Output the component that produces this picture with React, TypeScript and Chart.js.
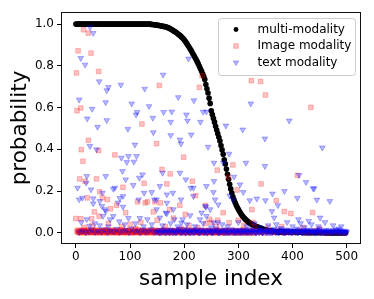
import React, { useEffect, useRef } from "react";
import { Chart, registerables } from "chart.js";
Chart.register(...registerables);

const FONT = "'DejaVu Sans', sans-serif";

const seriesNames = ["multi-modality", "Image modality", "text modality"];
const xTicks = [0, 100, 200, 300, 400, 500];
const yTicks = [0, 0.2, 0.4, 0.6, 0.8, 1.0];

// multi-modality probability, one value per even sample index (0, 2, 4, ... 498)
const multiModality = [
  1,1,1,1,1,1,1,1,1,1, 1,1,1,1,1,1,1,1,1,1, 1,1,1,1,1,1,1,1,1,1, 1,1,1,1,1,1,1,1,1,1,
  1,1,1,1,1,1,1,1,1,1, 1,1,1,1,1,1,1,1,1,1, 1,1,1,1,1,1,1,1,1,1,
  0.998,0.998,0.997,0.997,0.996,0.995,0.994,0.993,0.992,0.991,
  0.99,0.989,0.988,0.987,0.985,0.983,0.981,0.978,0.975,0.972,
  0.968,0.965,0.962,0.958,0.954,0.95,0.946,0.941,0.936,0.931,
  0.925,0.918,0.91,0.902,0.894,0.885,0.877,0.868,0.858,0.849,
  0.84,0.83,0.82,0.81,0.798,0.786,0.775,0.762,0.75,0.735,
  0.71,0.69,0.67,0.645,0.62,0.585,0.566,0.548,0.53,0.51,
  0.492,0.475,0.458,0.44,0.418,0.397,0.376,0.35,0.33,0.305,
  0.28,0.256,0.232,0.21,0.19,0.172,0.158,0.145,0.133,0.122,
  0.112,0.103,0.094,0.086,0.079,0.073,0.067,0.062,0.057,0.052,
  0.048,0.045,0.042,0.039,0.036,0.033,0.031,0.029,0.027,0.025,
  0.023,0.021,0.019,0.017,0.015,0.013,0.012,0.011,0.01,0.009,
  0.008,0.007,0.007,0.006,0.006,0.005,0.005,0.005,0.004,0.004,
  0.004,0.003,0.003,0.003,0.003,0.003,0.002,0.002,0.002,0.002,
  0.002,0.002,0.002,0.002,0.002,0.002,0.002,0.002,0.002,0.002,
  0.001,0.001,0.001,0.001,0.001,0.001,0.001,0.001,0.001,0.001,
  0.001,0.001,0.001,0.001,0.001,0.001,0.001,0.001,0.001,0.001,
  0,0,0,0,0,0,0,0,0,0, 0,0,0,0,0,0,0,0,0,0,
];

// Image modality: [sample index, probability]
const imageScatter = [
  [14,0.973],[23,0.957],[4,0.872],[28,0.861],[1,0.766],[42,0.773],[2,0.585],[9,0.598],[10,0.398],[23,0.443],
  [13,0.343],[42,0.394],[7,0.258],[38,0.258],[17,0.247],[21,0.167],[44,0.196],[49,0.167],[34,0.1],[0,0.068],
  [29,0.067],[154,0.706],[122,0.521],[72,0.373],[149,0.427],[199,0.362],[159,0.303],[174,0.282],[168,0.234],[126,0.237],
  [87,0.218],[114,0.148],[132,0.148],[146,0.148],[58,0.159],[75,0.132],[92,0.096],[143,0.1],[192,0.132],[215,0.247],
  [221,0.178],[202,0.088],[239,0.131],[228,0.697],[233,0.753],[261,0.3],[281,0.266],[290,0.325],[298,0.205],[272,0.096],
  [324,0.729],[341,0.725],[350,0.66],[325,0.111],[342,0.234],[370,0.154],[385,0.102],[397,0.092],[434,0.601],[409,0.275],
  [437,0.097],[64,0.115],[43,0.079],[9,0.067],[128,0.143],[156,0.143],[173,0.111],[209,0.035],[283,0.048],[120,0.05],
  [100,0.04],[60,0.045],[30,0.035],[150,0.06],[180,0.07],[240,0.045],[260,0.03],[300,0.06],[310,0.035],[330,0.03],
  [355,0.025],[380,0.03],[420,0.025],[450,0.02],[15,0.025],[85,0.03],[110,0.02],[165,0.03],[195,0.02],[225,0.025],
  [250,0.05],[247,0.064],[262,0.06],[327,0.05],
];
const imageLow = [
  [3,0.004],[5,0],[7,0.01],[9,0.002],[11,0.006],[13,0.013],[15,0.001],[17,0.007],[19,0.003],[21,0.011],
  [24,0],[26,0.005],[28,0.009],[30,0.002],[33,0.014],[35,0.004],[37,0],[39,0.008],[42,0.003],[44,0.012],
  [46,0.001],[48,0.006],[51,0],[53,0.009],[55,0.004],[57,0.015],[60,0.002],[62,0.007],[64,0],[67,0.011],
  [69,0.003],[71,0.006],[74,0],[76,0.01],[78,0.004],[80,0.001],[83,0.008],[85,0.013],[87,0.002],[90,0.005],
  [92,0],[94,0.009],[97,0.003],[99,0.012],[101,0.001],[104,0.006],[106,0],[108,0.01],[111,0.004],[113,0.002],
  [115,0.014],[118,0],[120,0.007],[122,0.003],[125,0.011],[127,0.001],[129,0.005],[132,0],[134,0.009],[136,0.003],
  [139,0.006],[141,0.012],[143,0],[146,0.004],[148,0.008],[150,0.001],[153,0.01],[155,0.003],[158,0],[160,0.006],
  [162,0.013],[165,0.002],[167,0.007],[170,0],[172,0.004],[175,0.011],[177,0.001],[180,0.006],[183,0],[185,0.009],
  [188,0.003],[190,0.014],[193,0.001],[196,0.005],[198,0],[201,0.008],[204,0.002],[207,0.011],[210,0],[213,0.006],
  [216,0.003],[219,0.01],[222,0.001],[226,0.007],[229,0],[233,0.012],[236,0.004],[240,0],[244,0.009],[248,0.002],
  [252,0.006],[256,0],[260,0.011],[264,0.003],[268,0.007],[273,0],[277,0.01],[282,0.004],[287,0.001],[292,0.008],
  [297,0],[302,0.005],[308,0.012],[314,0.002],[320,0.006],[327,0],[334,0.009],[341,0.003],[348,0],[356,0.007],
  [364,0.002],[373,0.01],[382,0],[391,0.005],[400,0.001],[410,0.008],[420,0],[430,0.004],[441,0.01],[452,0.002],
  [463,0],[475,0.006],[487,0.003],[498,0],
];
const imageLowFill = [
  [2,0.008],[4,0.012],[6,0.003],[8,0],[10,0.009],[12,0.002],[14,0.006],[16,0.011],[18,0],[20,0.005],
  [22,0.002],[23,0.013],[25,0.007],[27,0],[29,0.004],[31,0.01],[32,0.001],[34,0.007],[36,0.012],[38,0.002],
  [40,0],[41,0.005],[43,0.009],[45,0],[47,0.011],[49,0.003],[50,0.007],[52,0.001],[54,0.013],[56,0],
  [58,0.006],[59,0.003],[61,0.01],[63,0],[65,0.005],[66,0.012],[68,0.002],[70,0.008],[72,0],[73,0.004],
  [75,0.011],[77,0.001],[79,0.007],[81,0],[82,0.013],[84,0.003],[86,0.006],[88,0],[89,0.01],[91,0.002],
  [93,0.005],[95,0],[96,0.012],[98,0.007],[100,0.001],[102,0.009],[103,0],[105,0.004],[107,0.013],[109,0.002],
  [110,0.006],[112,0],[114,0.008],[116,0.003],[117,0.011],[119,0],[121,0.005],[123,0.009],[124,0.001],[126,0.006],
  [128,0.012],[130,0],[131,0.003],[133,0.007],[135,0],[137,0.01],[138,0.002],[140,0.005],[142,0],[144,0.009],
  [145,0.003],[147,0.012],[149,0],[151,0.006],[152,0.002],[154,0.008],[156,0],[157,0.011],[159,0.004],[161,0],
  [163,0.007],[164,0.002],[166,0.01],[168,0],[169,0.005],[171,0.012],[173,0.001],[174,0.007],[176,0],[178,0.009],
  [179,0.003],[181,0.006],[182,0],[184,0.011],[186,0.002],[187,0.005],[189,0],[191,0.008],[192,0.003],[194,0.01],
  [195,0],[197,0.006],[199,0.002],[200,0.013],[202,0],[203,0.004],[205,0.008],[206,0],[208,0.006],[209,0.002],
  [211,0.01],[212,0],[214,0.005],[215,0.012],[217,0],[218,0.007],[220,0.003],[221,0],[223,0.009],[224,0.002],
  [225,0.005],[227,0],[228,0.011],[230,0.003],[231,0.006],[232,0],[234,0.008],[235,0.002],[237,0],[238,0.01],
  [239,0.004],[241,0],[242,0.006],[243,0.002],[245,0.012],[246,0],[247,0.005],[249,0.003],[250,0],[251,0.009],
  [253,0.002],[254,0],[255,0.007],[257,0.003],[258,0.011],[259,0],[261,0.005],[262,0.001],[263,0.008],[265,0],
  [266,0.004],[267,0.012],[269,0],[270,0.006],[271,0.002],[272,0],[274,0.009],[275,0.003],[276,0],[278,0.006],
  [279,0.011],[280,0],[281,0.004],[283,0.001],[284,0.008],[285,0],[286,0.005],[288,0.012],[289,0],[290,0.003],
  [291,0.007],[293,0],[294,0.004],[295,0.01],[296,0],[298,0.006],[299,0.002],[300,0],[301,0.009],[303,0.003],
  [304,0],[305,0.007],[306,0],[307,0.004],[309,0.011],[310,0],[311,0.005],[312,0],[313,0.008],[315,0.002],
  [316,0],[317,0.006],[318,0],[319,0.01],[321,0.003],[322,0],[323,0.007],[325,0],[326,0.004],[328,0.009],
  [330,0],[332,0.005],[335,0],[338,0.008],[340,0.002],[343,0],[346,0.006],[350,0.001],[353,0.009],[359,0],
  [362,0.005],[368,0.002],[377,0.007],[386,0],[395,0.004],[405,0],[414,0.006],[425,0.002],[436,0],[446,0.007],
  [457,0.001],[468,0],[480,0.004],[492,0],
];

// text modality: [sample index, probability]
const textScatter = [
  [26,0.985],[32,0.957],[9,0.837],[17,0.805],[6,0.638],[30,0.593],[43,0.725],[60,0.698],[55,0.625],[83,0.709],
  [40,0.507],[21,0.547],[57,0.539],[26,0.415],[103,0.619],[113,0.578],[96,0.497],[127,0.69],[142,0.55],[143,0.481],
  [162,0.578],[161,0.757],[177,0.58],[189,0.649],[175,0.531],[175,0.467],[192,0.446],[194,0.427],[208,0.834],[218,0.634],
  [204,0.566],[230,0.531],[235,0.579],[213,0.47],[244,0.411],[277,0.513],[283,0.378],[308,0.494],[323,0.619],[349,0.451],
  [349,0.319],[394,0.537],[455,0.408],[412,0.276],[438,0.212],[314,0.335],[255,0.335],[272,0.335],[292,0.268],[284,0.178],
  [303,0.231],[290,0.159],[309,0.194],[321,0.155],[334,0.163],[350,0.155],[363,0.187],[362,0.103],[366,0.072],[385,0.199],
  [409,0.166],[425,0.242],[440,0.212],[445,0.158],[469,0.151],[373,0.131],[451,0.072],[411,0.064],[430,0.056],[254,0.194],
  [239,0.127],[3,0.215],[6,0.159],[12,0.167],[20,0.271],[19,0.239],[32,0.164],[49,0.191],[55,0.271],[48,0.127],
  [55,0.103],[72,0.215],[78,0.144],[69,0.079],[84,0.359],[94,0.338],[97,0.367],[109,0.422],[107,0.34],[112,0.367],
  [117,0.263],[123,0.279],[106,0.228],[126,0.191],[87,0.175],[155,0.223],[160,0.287],[140,0.194],[168,0.183],[179,0.191],
  [149,0.159],[192,0.287],[203,0.255],[212,0.215],[217,0.175],[241,0.223],[257,0.159],[263,0.135],[248,0.112],[232,0.096],
  [180,0.112],[166,0.096],[197,0.064],[38,0.399],[86,0.295],[92,0.255],[20,0.064],[25,0.032],[44,0.035],[50,0.08],
  [63,0.064],[80,0.054],[97,0.07],[118,0.07],[132,0.064],[155,0.072],[168,0.092],[182,0.064],[195,0.048],[211,0.083],
  [229,0.064],[241,0.08],[254,0.048],[69,0.21],[81,0.166],[87,0.124],[44,0.151],[28,0.207],[32,0.14],[54,0.112],
  [116,0.159],[145,0.159],[149,0.112],[168,0.143],[194,0.159],[217,0.215],[240,0.124],[255,0.247],[57,0.682],[111,0.566],
  [135,0.606],[206,0.537],[241,0.58],[270,0.04],[280,0.03],[300,0.05],[315,0.03],[330,0.045],[340,0.025],[355,0.035],
  [370,0.04],[378,0.022],[390,0.05],[400,0.03],[415,0.045],[422,0.025],[435,0.04],[448,0.03],[460,0.05],[475,0.035],
  [485,0.02],[490,0.03],[10,0.05],[35,0.045],[60,0.03],[90,0.04],[110,0.045],[125,0.03],[140,0.04],[160,0.035],
  [175,0.045],[188,0.03],[205,0.04],[220,0.03],[235,0.045],[250,0.025],[262,0.05],
];
const textLow = [
  [6,0.002],[12,0.009],[18,0],[24,0.006],[29,0.013],[35,0.001],[41,0.008],[47,0.003],[52,0.015],[58,0],
  [64,0.01],[70,0.004],[75,0.018],[81,0.001],[87,0.007],[92,0.012],[98,0],[103,0.02],[108,0.005],[114,0.009],
  [119,0],[124,0.014],[129,0.003],[134,0.008],[139,0.017],[144,0.001],[148,0.006],[152,0.011],[156,0],[160,0.004],
  [163,0.015],[167,0.002],[170,0.008],[174,0],[177,0.012],[181,0.005],[184,0],[188,0.009],[191,0.019],[195,0.002],
  [198,0.007],[202,0],[205,0.013],[208,0.004],[212,0],[215,0.01],[218,0.002],[222,0.016],[225,0.006],[228,0],
  [232,0.011],[235,0.003],[238,0.008],[242,0],[245,0.014],[248,0.005],[252,0.001],[255,0.009],[258,0.02],[262,0.003],
  [265,0],[268,0.007],[272,0.012],[275,0.002],[278,0],[282,0.009],[285,0.004],[288,0.016],[291,0],[294,0.006],
  [297,0.011],[300,0.002],[303,0],[306,0.008],[309,0.013],[312,0.003],[315,0],[318,0.006],[321,0.017],[324,0.001],
  [327,0.009],[330,0.004],[333,0],[336,0.011],[339,0.003],[342,0.007],[345,0],[348,0.014],[351,0.002],[354,0.005],
  [357,0],[360,0.01],[363,0.003],[366,0.018],[369,0.001],[372,0.006],[375,0],[378,0.012],[381,0.004],[384,0.008],
  [387,0],[390,0.015],[393,0.002],[396,0.007],[399,0],[402,0.01],[405,0.003],[408,0.019],[411,0.001],[414,0.006],
  [417,0],[420,0.012],[423,0.004],[426,0.009],[429,0],[432,0.014],[435,0.002],[438,0.006],[441,0],[444,0.011],
  [447,0.003],[450,0.017],[453,0.001],[456,0.008],[459,0],[462,0.013],[465,0.004],[468,0.007],[471,0],[474,0.01],
  [477,0.002],[480,0.015],[483,0],[486,0.006],[489,0.011],[492,0.003],[495,0],[498,0.008],[500,0.002],
];
const textLowFill = [
  [150,0.003],[154,0],[158,0.012],
  [161,0.005],[165,0],[168,0.009],[172,0.003],[175,0.014],[179,0],[182,0.006],[186,0.002],[189,0.011],[193,0],
  [196,0.004],[200,0.016],[203,0],[207,0.007],[210,0.002],[213,0.012],[217,0],[220,0.005],[223,0.009],[227,0],
  [230,0.003],[233,0.014],[237,0.001],[240,0.006],[243,0],[247,0.01],[250,0.003],[253,0],[257,0.007],[260,0.012],
  [263,0],[267,0.004],[270,0.009],[273,0],[277,0.015],[280,0.002],[283,0],[287,0.006],[290,0.011],[293,0.001],
  [296,0],[299,0.008],[302,0.014],[305,0.002],[308,0],[311,0.007],[314,0.011],[317,0.003],[320,0],[323,0.009],
  [326,0.004],[329,0.015],[332,0],[335,0.006],[338,0.002],[341,0.012],[344,0],[347,0.005],[350,0.009],[353,0],
  [356,0.013],[359,0.003],[362,0],[365,0.007],[368,0.011],[371,0.002],[374,0],[377,0.006],[380,0.016],[383,0.001],
  [386,0],[389,0.008],[392,0.012],[395,0.003],[398,0],[401,0.006],[404,0.01],[407,0.002],[410,0],[413,0.014],
  [416,0.004],[419,0],[422,0.008],[425,0.002],[428,0.012],[431,0],[434,0.006],[437,0.01],[440,0.003],[443,0],
  [446,0.007],[449,0.013],[452,0],[455,0.004],[458,0.009],[461,0.002],[464,0],[467,0.011],[470,0.005],[473,0],
  [476,0.008],[479,0.003],[482,0.012],[485,0],[488,0.006],[491,0.002],[494,0.009],[497,0],[499,0.005],
];

const BLACK = "#000000";
const RED = "rgba(255,0,0,0.24)";
const BLUE = "rgba(0,0,255,0.28)";

function drawMarker(ctx: CanvasRenderingContext2D, kind: number, x: number, y: number) {
  ctx.save();
  if (kind === 0) {
    ctx.fillStyle = BLACK;
    ctx.beginPath();
    ctx.arc(x, y, 2.4, 0, Math.PI * 2);
    ctx.fill();
  } else if (kind === 1) {
    const s = 2.3;
    ctx.fillStyle = RED;
    ctx.strokeStyle = RED;
    ctx.lineWidth = 1;
    ctx.beginPath();
    ctx.rect(x - s, y - s, 2 * s, 2 * s);
    ctx.fill();
    ctx.stroke();
  } else {
    const r = 3.1;
    ctx.fillStyle = BLUE;
    ctx.strokeStyle = BLUE;
    ctx.lineWidth = 1;
    ctx.beginPath();
    ctx.moveTo(x, y + r);
    ctx.lineTo(x - r * 0.866, y - r * 0.5);
    ctx.lineTo(x + r * 0.866, y - r * 0.5);
    ctx.closePath();
    ctx.fill();
    ctx.stroke();
  }
  ctx.restore();
}

export default function App() {
  const ref = useRef<HTMLCanvasElement>(null);
  useEffect(() => {
    const canvas = ref.current!;
    Chart.defaults.font.family = FONT;

    const framePlugin = {
      id: "frame",
      afterDatasetsDraw(chart: any) {
        const { ctx, chartArea: a } = chart;
        ctx.save();
        ctx.strokeStyle = "#111";
        ctx.lineWidth = 1;
        ctx.strokeRect(Math.floor(a.left) + 0.5, Math.floor(a.top) + 0.5, Math.round(a.right - a.left) - 1, Math.round(a.bottom - a.top) - 1);
        ctx.restore();
      },
    };

    const legendPlugin = {
      id: "customLegend",
      afterDraw(chart: any) {
        const { ctx, chartArea: a } = chart;
        const w = 137, h = 57;
        const x0 = a.right - 6 - w + 0.5;
        const y0 = a.top + 6 + 0.5;
        ctx.save();
        ctx.beginPath();
        const r = 3;
        ctx.moveTo(x0 + r, y0);
        ctx.lineTo(x0 + w - r, y0);
        ctx.arcTo(x0 + w, y0, x0 + w, y0 + r, r);
        ctx.lineTo(x0 + w, y0 + h - r);
        ctx.arcTo(x0 + w, y0 + h, x0 + w - r, y0 + h, r);
        ctx.lineTo(x0 + r, y0 + h);
        ctx.arcTo(x0, y0 + h, x0, y0 + h - r, r);
        ctx.lineTo(x0, y0 + r);
        ctx.arcTo(x0, y0, x0 + r, y0, r);
        ctx.closePath();
        ctx.fillStyle = "rgba(255,255,255,0.8)";
        ctx.fill();
        ctx.strokeStyle = "#cccccc";
        ctx.lineWidth = 1;
        ctx.stroke();
        ctx.font = `12px ${FONT}`;
        ctx.fillStyle = "#000";
        ctx.textBaseline = "middle";
        ctx.textAlign = "left";
        seriesNames.forEach((name, i) => {
          const cy = y0 + 11 + i * 16.5;
          drawMarker(ctx, i, x0 + 17.5, cy);
          ctx.fillStyle = "#000";
          ctx.fillText(name, x0 + 39, cy);
        });
        ctx.restore();
      },
    };

    const toPts = (arr: number[][]) => arr.map(([x, y]) => ({ x, y }));

    const chart = new Chart(canvas, {
      type: "scatter",
      data: {
        datasets: [
          {
            label: seriesNames[0],
            data: multiModality.map((y, i) => ({ x: i * 2, y })),
            pointStyle: "circle",
            pointRadius: 2.8,
            backgroundColor: BLACK,
            borderColor: BLACK,
            borderWidth: 0,
            order: 3,
          },
          {
            label: seriesNames[1],
            data: toPts([...imageLow, ...imageLowFill, ...imageScatter]),
            pointStyle: "rect",
            pointRadius: 3.3,
            backgroundColor: RED,
            borderColor: RED,
            borderWidth: 1,
            order: 2,
          },
          {
            label: seriesNames[2],
            data: toPts([...textLow, ...textLowFill, ...textScatter]),
            pointStyle: "triangle",
            rotation: 180,
            pointRadius: 3.3,
            backgroundColor: BLUE,
            borderColor: BLUE,
            borderWidth: 1,
            order: 1,
          },
        ],
      },
      options: {
        responsive: false,
        animation: false,
        devicePixelRatio: 1,
        events: [],
        layout: { padding: { left: 0, top: 12, right: 13, bottom: 0 } },
        plugins: { legend: { display: false }, tooltip: { enabled: false } },
        scales: {
          x: {
            type: "linear",
            min: -27.5,
            max: 526.5,
            afterBuildTicks: (s: any) => {
              s.ticks = xTicks.map((v) => ({ value: v }));
            },
            afterFit: (s: any) => {
              s.height = 55;
            },
            ticks: {
              font: { family: FONT, size: 12 },
              color: "#000",
              padding: 2,
              maxRotation: 0,
              autoSkip: false,
              callback: (v: any) => String(v),
            },
            grid: { display: true, drawOnChartArea: false, drawTicks: true, tickLength: 4, color: "#000", lineWidth: 1 },
            border: { display: false },
            title: {
              display: true,
              text: "sample index",
              font: { family: FONT, size: 21.5 },
              color: "#000",
              padding: { top: 0, bottom: 7 },
            },
          },
          y: {
            type: "linear",
            min: -0.054,
            max: 1.058,
            afterBuildTicks: (s: any) => {
              s.ticks = yTicks.map((v) => ({ value: v }));
            },
            afterFit: (s: any) => {
              s.width = 61;
            },
            ticks: {
              font: { family: FONT, size: 12 },
              color: "#000",
              padding: 3,
              autoSkip: false,
              callback: (v: any) => Number(v).toFixed(1),
            },
            grid: { display: true, drawOnChartArea: false, drawTicks: true, tickLength: 4, color: "#000", lineWidth: 1 },
            border: { display: false },
            title: {
              display: true,
              text: "probability",
              font: { family: FONT, size: 21.5 },
              color: "#000",
              padding: { top: 7.5, bottom: 0 },
            },
          },
        },
      },
      plugins: [framePlugin, legendPlugin],
    } as any);
    return () => chart.destroy();
  }, []);

  return (
    <div style={{ position: "fixed", left: 0, top: 0, width: 374, height: 299, background: "#fff" }}>
      <canvas ref={ref} width={374} height={299} style={{ display: "block", width: 374, height: 299 }} />
    </div>
  );
}
